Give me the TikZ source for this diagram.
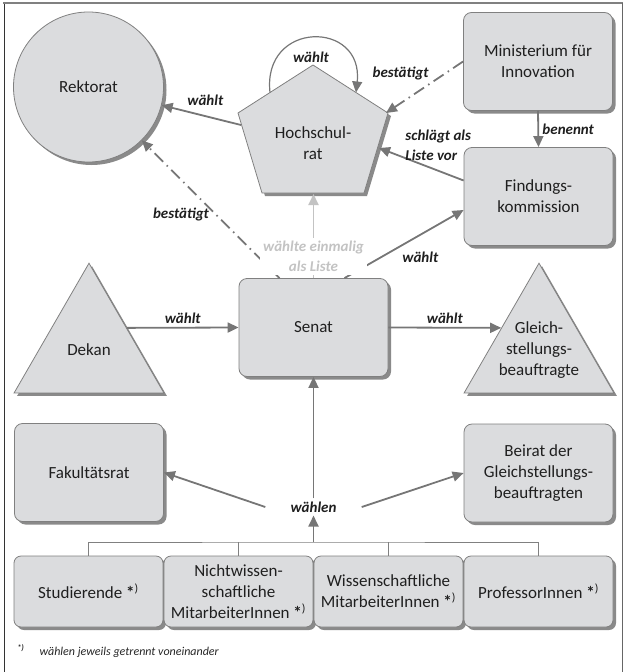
\documentclass[tikz,border=0pt]{standalone}
\usepackage{fontspec}
\setmainfont{Carlito}
\usetikzlibrary{arrows.meta,shapes.geometric,shadows}
\definecolor{organfill}{RGB}{219,220,222}
\definecolor{organline}{RGB}{128,128,128}
\definecolor{shadowgray}{RGB}{138,138,138}
\definecolor{arrowgray}{RGB}{118,118,118}
\definecolor{palegray}{RGB}{195,195,195}
\def\fn{{\bfseries*}\textsuperscript{)}}
\tikzset{
  utext/.style={text=black!88, align=center, font=\fontsize{17}{21}\selectfont},
  organ/.style={utext, draw=organline, fill=organfill, line width=0.8pt,
    drop shadow={shadow xshift=3pt, shadow yshift=-3pt, fill=shadowgray, opacity=1}},
  organbox/.style={organ, rounded corners=8pt, minimum width=149pt, minimum height=98pt},
  organtri/.style={organ, regular polygon, regular polygon sides=3, minimum size=173pt},
  arr/.style={draw=arrowgray, line width=1.8pt, -{Triangle[length=11pt,width=10pt]}},
  confirmline/.style={dash pattern=on 12pt off 5pt on 1.5pt off 5pt},
  lbl/.style={font=\fontsize{15}{20}\selectfont\bfseries\itshape, text=black!88, align=left},
  fnote/.style={font=\fontsize{12}{14}\selectfont\itshape, text=black!85},
}

\begin{document}
\begin{tikzpicture}[x=1pt, y=-1pt]
\useasboundingbox (0,0) rectangle (624,672);
% frame
\draw[black!80, line width=0.8pt] (4,672) -- (4,3);
\draw[organline, line width=2pt] (3,3) -- (623,3);
\draw[black!60, line width=0.8pt] (622,3) -- (622,672);

% organs
\node[organ, circle, minimum size=150pt] (rekt) at (88.5,87) {Rektorat};
\filldraw[organ] (313,65) -- (388,113) -- (364,193) -- (262,193) -- (238,113) -- cycle;
\node[utext] (hr) at (313,143) {Hochschul-\\rat};
\coordinate (hrW) at (241,125);
\coordinate (hrNE) at (386,113);
\coordinate (hrE) at (379,148);
\coordinate (hrS) at (313.5,194);
\coordinate (hrLa) at (270,92.5);
\coordinate (hrLb) at (356,92.5);
\node[organbox] (min) at (538,61.5) {Ministerium für\\Innovation};
\node[organbox] (fk) at (538.5,196.5) {Findungs-\\kommission};
\node[organbox] (senat) at (313.5,327.5) {Senat};
\node[organtri, label={[utext]center:Dekan}] (dekan) at (89,349.7) {};
\node[organtri, label={[utext]center:Gleich-\\stellungs-\\beauftragte}] (gleich) at (539,349.7) {};
\node[organbox] (fak) at (89,472.5) {Fakultätsrat};
\node[organbox] (beirat) at (538.5,473) {Beirat der\\Gleichstellungs-\\beauftragten};
\node[organbox, minimum height=71pt, rounded corners=7pt] (stud) at (88.5,591.5) {Studierende \fn};
\node[organbox, minimum height=71pt, rounded corners=7pt] (nicht) at (238.5,591.5) {Nichtwissen-\\schaftliche\\MitarbeiterInnen \fn};
\node[organbox, minimum height=71pt, rounded corners=7pt] (wiss) at (388.5,591.5) {Wissenschaftliche\\MitarbeiterInnen \fn};
\node[organbox, minimum height=71pt, rounded corners=7pt] (prof) at (538.5,591.5) {ProfessorInnen \fn};
\node[lbl, inner xsep=25pt, inner ysep=3pt] (w) at (313.5,507) {wählen};

% connectors
\draw[arr] (hrW) -- node[lbl, pos=.45, above=6pt] {wählt} (rekt);
\draw[arr, line width=1.2pt] (hrLa) .. controls (262,20) and (364,20) .. (hrLb);
\node[lbl] (selfl) at (311,57) {wählt};
\draw[arr, confirmline] (min.west) -- node[lbl, xshift=-24pt, yshift=14pt] {bestätigt} (hrNE);
\draw[arr] (min.south) -- node[lbl, right] {benennt} (fk.north);
\draw[arr] ([yshift=16pt]fk.west) -- node[lbl, pos=.3, above=6pt] {schlägt als\\Liste vor} (hrE);
\draw[arr] ([xshift=31pt]senat.north) -- node[lbl, pos=.45, below right] {wählt} ([yshift=-13.5pt]fk.west);
\draw[arr, confirmline] ([xshift=-34pt]senat.north) -- node[lbl, pos=.46, left=3pt] {bestätigt} (rekt);
\draw[arr, draw=palegray] (senat.north) -- node[lbl, pos=.26, fill=white, text=palegray, align=center] {wählte einmalig\\als Liste} (hrS);
\draw[arr] (dekan.side 3) -- node[lbl, above] {wählt} (senat.west);
\draw[arr] (senat.east) -- node[lbl, above] {wählt} (gleich.side 1);
\draw[arr] (w.north) -- (senat.south);
\draw[arr] (w.west) -- (fak.east);
\draw[arr] (w.east) -- (beirat.west);

% bracket of the groups
\coordinate (br) at (313.5,542);
\draw[organline, line width=1pt] (stud.north) |- (br) -| (prof.north);
\draw[organline, line width=1pt] (nicht.north) -- (nicht.north |- br);
\draw[organline, line width=1pt] (wiss.north) -- (wiss.north |- br);
\draw[arr] (br) -- (w.south);

% footnote
\node[fnote, anchor=base west] (note) at (36,655) {wählen jeweils getrennt voneinander};
\node[fnote, anchor=base east] (star) at ([xshift=-8pt]note.base west) {\textsuperscript{\bfseries*)}};
\end{tikzpicture}
\end{document}
